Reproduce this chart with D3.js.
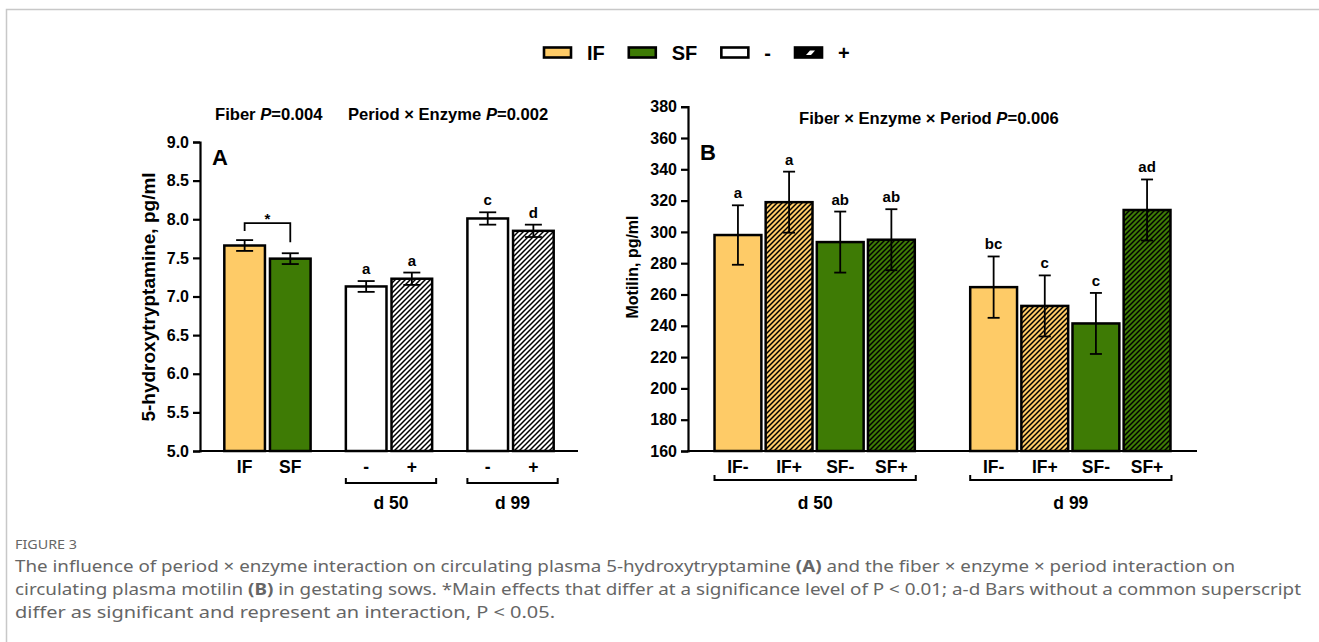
<!DOCTYPE html>
<html>
<head>
<meta charset="utf-8">
<script src="https://d3js.org/d3.v7.min.js"></script>
<style>
  body { margin: 0; background: #fff; }
  svg text { font-family: "Liberation Sans", Arial, sans-serif; font-weight: bold; fill: #000; }
  svg text.cap { font-family: "Noto Sans", "Open Sans", sans-serif; font-weight: normal; fill: #666; }
</style>
</head>
<body>
<div id="chart"></div>
<script>
// Panel A : 5-hydroxytryptamine
var groupsA = ["fiber", "d 50", "d 99"];
var labelsA = ["IF", "SF", "-", "+", "-", "+"];
var fiberA = ["IF", "SF", "none", "none", "none", "none"];
var enzymeA = ["", "", "-", "+", "-", "+"];
var meansA = [7.66, 7.49, 7.13, 7.23, 8.01, 7.85];
var semA = [0.07, 0.07, 0.07, 0.08, 0.08, 0.08];
var lettersA = ["", "", "a", "a", "c", "d"];
var ticksA = [5.0, 5.5, 6.0, 6.5, 7.0, 7.5, 8.0, 8.5, 9.0];

// Panel B : motilin
var groupsB = ["d 50", "d 99"];
var labelsB = ["IF-", "IF+", "SF-", "SF+", "IF-", "IF+", "SF-", "SF+"];
var fiberB = ["IF", "IF", "SF", "SF", "IF", "IF", "SF", "SF"];
var enzymeB = ["-", "+", "-", "+", "-", "+", "-", "+"];
var meansB = [298, 319, 293.5, 295, 264.7, 252.7, 241.5, 314];
var semB = [19, 19.5, 19.5, 19.5, 19.6, 19.5, 19.5, 19.5];
var lettersB = ["a", "a", "ab", "ab", "bc", "c", "c", "ad"];
var ticksB = [160, 180, 200, 220, 240, 260, 280, 300, 320, 340, 360, 380];

var legendItems = [
	{name: "IF", fiber: "IF", enzyme: ""},
	{name: "SF", fiber: "SF", enzyme: ""},
	{name: "-", fiber: "none", enzyme: "-"},
	{name: "+", fiber: "none", enzyme: "+"}
];

var width = 1319, height = 642;
var yellow = "#fecb67", green = "#3e7b05";

var svg = d3.select("#chart").append("svg")
	.attr("width", width)
	.attr("height", height);

// motifs hachurés
var defs = svg.append("defs");
[["white", "#fff"], ["IF", yellow], ["SF", green]].forEach(function (p) {
	var pat = defs.append("pattern")
		.attr("id", "hatch-" + p[0])
		.attr("patternUnits", "userSpaceOnUse")
		.attr("width", 5).attr("height", 5);
	pat.append("rect").attr("width", 5).attr("height", 5).attr("fill", p[1]);
	pat.append("path")
		.attr("d", "M-1,1 l2,-2 M0,5 l5,-5 M4,6 l2,-2")
		.attr("stroke", "#000").attr("stroke-width", 1.5);
});

function fillOf(fiber, enzyme) {
	var key = fiber == "none" ? "white" : fiber;
	if (enzyme == "+") return "url(#hatch-" + key + ")";
	if (fiber == "IF") return yellow;
	if (fiber == "SF") return green;
	return "#fff";
}

// cadre gris
svg.append("path")
	.attr("d", "M6.5," + height + " V9.5 H" + width)
	.attr("fill", "none")
	.attr("stroke", "#c8c8c8")
	.attr("stroke-width", 1.5);

// legende (placement à la suite, selon la largeur du texte)
var legG = svg.append("g");
var lx = 544;
legendItems.forEach(function (d) {
	var it = legG.append("g").attr("transform", "translate(" + lx + ",47.5)");
	it.append("rect")
		.attr("width", 27).attr("height", 10)
		.attr("fill", d.enzyme == "+" ? "#000" : fillOf(d.fiber, d.enzyme))
		.attr("stroke", "#000").attr("stroke-width", 2.6);
	if (d.enzyme == "+") {
		it.append("path")
			.attr("d", "M11,7.5 L15,3 L20,3 L16,7.5 Z")
			.attr("fill", "#fff");
	}
	var t = it.append("text")
		.attr("x", 43)
		.attr("y", 12)
		.attr("font-size", "20px")
		.text(d.name);
	lx += 43 + t.node().getComputedTextLength() + 24;
});

// fonction commune pour un panneau
function drawPanel(o) {
	var g = svg.append("g");

	var y = d3.scaleLinear().domain(o.yDomain).range([451, o.yTop]);

	var x0 = d3.scaleBand().domain(o.groups).range([o.left, o.right])
		.paddingInner(o.padIn).paddingOuter(o.padOut);
	var per = o.labels.length / o.groups.length;
	var x1 = d3.scaleBand().domain(d3.range(per)).range([0, x0.bandwidth()])
		.paddingInner(o.subPad);

	var data = o.labels.map(function (l, i) {
		return {
			label: l, mean: o.means[i], sem: o.sems[i], letter: o.letters[i],
			fiber: o.fiber[i], enzyme: o.enzyme[i],
			group: o.groups[Math.floor(i / per)], k: i % per
		};
	});
	data.forEach(function (d) {
		d.x = x0(d.group) + x1(d.k);
		d.cx = d.x + x1.bandwidth() / 2;
	});

	// barres
	g.selectAll("rect.bar").data(data).enter().append("rect")
		.attr("class", "bar")
		.attr("x", d => d.x)
		.attr("width", x1.bandwidth())
		.attr("y", d => y(d.mean))
		.attr("height", d => y(o.yDomain[0]) - y(d.mean))
		.attr("fill", d => fillOf(d.fiber, d.enzyme))
		.attr("stroke", "#000")
		.attr("stroke-width", 2.5);

	// barres d'erreur
	var eb = g.selectAll("g.err").data(data).enter().append("g")
		.attr("stroke", "#000").attr("stroke-width", 1.8);
	eb.append("line")
		.attr("x1", d => d.cx).attr("x2", d => d.cx)
		.attr("y1", d => y(d.mean - d.sem)).attr("y2", d => y(d.mean + d.sem));
	[-1, 1].forEach(function (s) {
		eb.append("line")
			.attr("x1", d => d.cx - o.cap).attr("x2", d => d.cx + o.cap)
			.attr("y1", d => y(d.mean + s * d.sem)).attr("y2", d => y(d.mean + s * d.sem));
	});

	// lettres
	g.selectAll("text.letter").data(data.filter(d => d.letter)).enter().append("text")
		.attr("x", d => d.cx)
		.attr("y", d => y(d.mean + d.sem) - 7)
		.attr("text-anchor", "middle")
		.attr("font-size", "15px")
		.text(d => d.letter);

	// axe y
	var yAxis = d3.axisLeft(y).tickValues(o.ticks).tickFormat(o.fmt).tickSize(7).tickPadding(4);
	var ya = g.append("g").attr("transform", "translate(" + o.left + ",0)").call(yAxis);
	ya.select(".domain").attr("stroke-width", 2.2);
	ya.selectAll(".tick line").attr("stroke-width", 2.2);
	ya.selectAll(".tick text").attr("font-size", "16px").attr("font-family", null);

	// axe x
	g.append("line")
		.attr("x1", o.left - 1).attr("x2", o.right)
		.attr("y1", y(o.yDomain[0])).attr("y2", y(o.yDomain[0]))
		.attr("stroke", "#000").attr("stroke-width", 2.2);

	g.selectAll("text.xl").data(data).enter().append("text")
		.attr("x", d => d.cx)
		.attr("y", 473)
		.attr("text-anchor", "middle")
		.attr("font-size", "17.5px")
		.text(d => d.label);

	// accolades des périodes
	o.groups.filter(gr => gr != "fiber").forEach(function (gr) {
		var a = x0(gr), b = x0(gr) + x0.bandwidth() + o.brExtra;
		g.append("path")
			.attr("d", "M" + a + "," + (o.brY - 5) + " V" + o.brY + " H" + b + " V" + (o.brY - 5))
			.attr("fill", "none").attr("stroke", "#000").attr("stroke-width", 2);
		g.append("text")
			.attr("x", (a + b) / 2)
			.attr("y", 509)
			.attr("text-anchor", "middle")
			.attr("font-size", "17.5px")
			.text(gr);
	});

	// titre de l'axe y
	g.append("text")
		.attr("transform", "translate(" + o.yLabX + "," + o.yLabY + ")rotate(-90)")
		.attr("text-anchor", "middle")
		.attr("font-size", o.yLabSize)
		.text(o.yLabel);

	// lettre du panneau
	g.append("text")
		.attr("x", o.left + o.panelDx)
		.attr("y", o.panelY)
		.attr("font-size", "22px")
		.text(o.panel);

	return {g: g, y: y, data: data};
}

var A = drawPanel({
	groups: groupsA, labels: labelsA, fiber: fiberA, enzyme: enzymeA,
	means: meansA, sems: semA, letters: lettersA, ticks: ticksA,
	yDomain: [5, 9], yTop: 142, fmt: d3.format(".1f"),
	left: 200, right: 578, padIn: 0.29, padOut: 0.2, subPad: 0.11,
	cap: 8.5, brY: 483, brExtra: 4,
	yLabel: "5-hydroxytryptamine, pg/ml", yLabX: 155, yLabY: 297, yLabSize: "19px",
	panel: "A", panelDx: 12, panelY: 165
});

var B = drawPanel({
	groups: groupsB, labels: labelsB, fiber: fiberB, enzyme: enzymeB,
	means: meansB, sems: semB, letters: lettersB, ticks: ticksB,
	yDomain: [160, 380], yTop: 106.7, fmt: d3.format("d"),
	left: 688, right: 1197, padIn: 0.2167, padOut: 0.1037, subPad: 0.084,
	cap: 6, brY: 480, brExtra: 1,
	yLabel: "Motilin, pg/ml", yLabX: 638, yLabY: 267, yLabSize: "16px",
	panel: "B", panelDx: 12, panelY: 160
});

// crochet significatif IF vs SF
var dIF = A.data[0], dSF = A.data[1];
var brTop = A.y(dIF.mean + dIF.sem) - 17;
A.g.append("path")
	.attr("d", "M" + dIF.cx + "," + (A.y(dIF.mean + dIF.sem) - 9) + " V" + brTop +
		" H" + dSF.cx + " V" + (A.y(dSF.mean + dSF.sem) - 11))
	.attr("fill", "none").attr("stroke", "#000").attr("stroke-width", 1.8);
A.g.append("text")
	.attr("x", (dIF.cx + dSF.cx) / 2)
	.attr("y", brTop + 1)
	.attr("text-anchor", "middle")
	.attr("font-size", "15px")
	.text("*");

// titres P
function pTitle(x, y, before, after) {
	var t = svg.append("text").attr("x", x).attr("y", y).attr("font-size", "16.6px");
	t.append("tspan").text(before);
	t.append("tspan").attr("font-style", "italic").text("P");
	t.append("tspan").text(after);
	return t;
}
pTitle(215, 120, "Fiber ", "=0.004");
pTitle(348, 120, "Period \u00d7 Enzyme ", "=0.002");
pTitle(799, 124, "Fiber \u00d7 Enzyme \u00d7 Period ", "=0.006");

// légende de la figure
svg.append("text").attr("class", "cap")
	.attr("x", 15).attr("y", 549)
	.attr("font-size", "13px")
	.attr("textLength", 62).attr("lengthAdjust", "spacingAndGlyphs")
	.text("FIGURE 3");

var capLines = [
	[["The influence of period \u00d7 enzyme interaction on circulating plasma 5-hydroxytryptamine ", 0], ["(A)", 1],
		[" and the fiber \u00d7 enzyme \u00d7 period interaction on", 0]],
	[["circulating plasma motilin ", 0], ["(B)", 1],
		[" in gestating sows. *Main effects that differ at a significance level of P < 0.01; a-d Bars without a common superscript", 0]],
	[["differ as significant and represent an interaction, P < 0.05.", 0]]
];
var capEnds = [1235, 1301, 555];
capLines.forEach(function (line, i) {
	var t = svg.append("text").attr("class", "cap")
		.attr("x", 15).attr("y", 572 + i * 23)
		.attr("font-size", "16px")
		.attr("textLength", capEnds[i] - 15).attr("lengthAdjust", "spacingAndGlyphs");
	line.forEach(function (p) {
		t.append("tspan").attr("font-weight", p[1] ? "bold" : null).text(p[0]);
	});
});
</script>
</body>
</html>
